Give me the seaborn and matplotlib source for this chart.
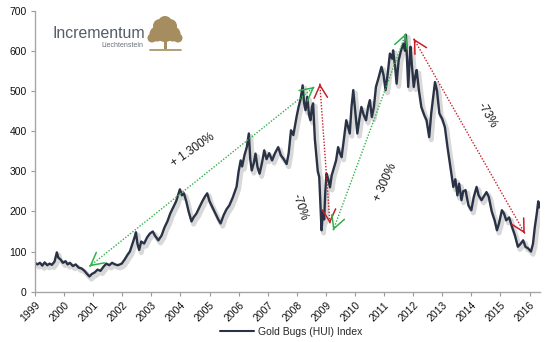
import matplotlib
matplotlib.use("Agg")
import matplotlib.pyplot as plt
import matplotlib.patheffects as pe
from matplotlib.patches import Circle, Rectangle
import pandas as pd
import seaborn as sns

# Gold Bugs (HUI) index, decimal year vs. index level
years = [
    1999.00, 1999.08, 1999.17, 1999.25, 1999.33, 1999.42, 1999.50, 1999.58, 1999.67, 1999.75,
    1999.80, 1999.88, 1999.96, 2000.05, 2000.12, 2000.20, 2000.30, 2000.40, 2000.50, 2000.60,
    2000.70, 2000.78, 2000.87, 2000.95, 2001.05, 2001.15, 2001.25, 2001.35, 2001.45, 2001.55,
    2001.65, 2001.75, 2001.85, 2001.98, 2002.08, 2002.18, 2002.26, 2002.35, 2002.42, 2002.47,
    2002.52, 2002.58, 2002.65, 2002.75, 2002.85, 2002.95, 2003.05, 2003.12, 2003.24, 2003.35,
    2003.45, 2003.55, 2003.65, 2003.75, 2003.85, 2003.98, 2004.05, 2004.12, 2004.20, 2004.28,
    2004.38, 2004.45, 2004.55, 2004.65, 2004.75, 2004.85, 2004.92, 2005.00, 2005.10, 2005.20,
    2005.30, 2005.38, 2005.48, 2005.58, 2005.68, 2005.80, 2005.93, 2006.00, 2006.07, 2006.12,
    2006.20, 2006.28, 2006.35, 2006.40, 2006.45, 2006.52, 2006.58, 2006.65, 2006.72, 2006.80,
    2006.88, 2006.96, 2007.05, 2007.15, 2007.25, 2007.36, 2007.45, 2007.55, 2007.65, 2007.72,
    2007.80, 2007.88, 2007.99, 2008.06, 2008.13, 2008.20, 2008.25, 2008.30, 2008.36, 2008.42,
    2008.47, 2008.52, 2008.56, 2008.62, 2008.67, 2008.72, 2008.77, 2008.81, 2008.85, 2008.90,
    2008.94, 2008.98, 2009.02, 2009.08, 2009.14, 2009.20, 2009.28, 2009.35, 2009.42, 2009.48,
    2009.54, 2009.62, 2009.70, 2009.76, 2009.82, 2009.88, 2009.94, 2010.02, 2010.08, 2010.15,
    2010.22, 2010.30, 2010.38, 2010.45, 2010.51, 2010.58, 2010.65, 2010.72, 2010.80, 2010.91,
    2010.98, 2011.05, 2011.12, 2011.20, 2011.28, 2011.31, 2011.38, 2011.43, 2011.50, 2011.58,
    2011.66, 2011.72, 2011.75, 2011.80, 2011.83, 2011.88, 2011.91, 2011.96, 2012.02, 2012.08,
    2012.12, 2012.20, 2012.28, 2012.38, 2012.46, 2012.55, 2012.62, 2012.68, 2012.75, 2012.82,
    2012.90, 2013.00, 2013.09, 2013.18, 2013.28, 2013.38, 2013.45, 2013.52, 2013.58, 2013.66,
    2013.72, 2013.80, 2013.90, 2014.00, 2014.08, 2014.18, 2014.25, 2014.35, 2014.45, 2014.52,
    2014.60, 2014.70, 2014.80, 2014.88, 2014.95, 2015.05, 2015.12, 2015.20, 2015.30, 2015.40,
    2015.50, 2015.60, 2015.70, 2015.78, 2015.86, 2015.95, 2016.05, 2016.12, 2016.18, 2016.25,
    2016.30, 2016.33, 2016.35,
]
hui = [
    72, 68, 72, 65, 73, 66, 70, 67, 75, 98,
    85, 80, 72, 76, 68, 72, 64, 68, 60, 58,
    52, 45, 38, 44, 48, 55, 52, 62, 70, 66,
    72, 68, 66, 70, 80, 92, 100, 120, 135, 148,
    120, 104, 125, 120, 135, 145, 150, 140, 128, 140,
    160, 175, 195, 210, 225, 255, 240, 245, 225, 200,
    175, 185, 195, 210, 225, 238, 245, 225, 210, 195,
    180, 170, 190, 205, 215, 235, 262, 300, 327, 312,
    340, 360, 394, 330, 302, 320, 344, 310, 294, 320,
    352, 330, 345, 327, 345, 360, 340, 330, 318, 345,
    402, 390, 435, 460, 480, 514, 470, 452, 485, 440,
    427, 460, 469, 380, 340, 300, 286, 220, 153, 200,
    180, 250, 294, 280, 260, 290, 310, 327, 360, 345,
    335, 380, 427, 410, 394, 460, 502, 440, 394, 430,
    460, 440, 427, 460, 477, 435, 460, 510, 530, 560,
    540, 502, 540, 593, 580, 601, 560, 518, 576, 600,
    618, 600, 640, 560, 510, 580, 610, 560, 510, 540,
    552, 500, 460, 440, 427, 385, 444, 480, 522, 500,
    444, 430, 410, 360, 311, 261, 280, 240, 269, 228,
    250, 253, 215, 203, 235, 261, 240, 228, 240, 248,
    236, 200, 178, 153, 170, 203, 195, 178, 185, 161,
    140, 112, 120, 128, 112, 108, 100, 120, 160, 195,
    225, 210, 220,
]
series_name = "Gold Bugs (HUI) Index"

year_ticks = list(range(1999, 2017))
value_ticks = [0, 100, 200, 300, 400, 500, 600, 700]

# Percentage moves: (label, start year, start value, end year, end value, colour)
moves = [
    ("+ 1.300%", 2000.87, 63, 2008.60, 510, "#2fb24c"),
    ("-70%", 2008.79, 518, 2009.14, 170, "#c8202a"),
    ("+ 300%", 2009.25, 153, 2011.75, 643, "#2fb24c"),
    ("-73%", 2012.02, 630, 2015.84, 145, "#c8202a"),
]
# Label placement: (x, y, rotation)
move_labels = [
    (2004.44, 352, 35),
    (2008.10, 211, -72),
    (2011.03, 273, 66),
    (2014.54, 440, -60),
]

df = pd.DataFrame({"year": years, "value": hui})

sns.set_theme(style="white")
plt.rcParams["font.family"] = ["Liberation Sans", "DejaVu Sans"]

fig = plt.figure(figsize=(5.49, 3.42), dpi=100)
ax = fig.add_axes([0.0638, 0.147, 0.9198, 0.822])

line_color = "#2a3346"
sns.lineplot(data=df, x="year", y="value", ax=ax, color=line_color, linewidth=1.7,
             label=series_name, legend=False)
ax.lines[0].set_path_effects([
    pe.SimpleLineShadow(offset=(1.5, -2.0), shadow_color="#808080", alpha=0.3, linewidth=3.5),
    pe.Normal(),
])

# Dotted double-headed arrows with open heads
for (label, x0, y0, x1, y1, col), (tx, ty, rot) in zip(moves, move_labels):
    ax.plot([x0, x1], [y0, y1], linestyle=(0, (1, 1.2)), color=col, linewidth=1.0)
    for (ax_, ay_), (bx, by) in (((x0, y0), (x1, y1)), ((x1, y1), (x0, y0))):
        fx = ax_ + (bx - ax_) * 0.005
        fy = ay_ + (by - ay_) * 0.005
        ax.annotate("", xy=(ax_, ay_), xytext=(fx, fy),
                    arrowprops=dict(arrowstyle="->,head_length=0.75,head_width=0.4",
                                    color=col, lw=1.1, shrinkA=0, shrinkB=0))
    ax.text(tx, ty, label, rotation=rot, rotation_mode="anchor", ha="center", va="center",
            fontsize=8.5, color="#1a1a1a")

ax.set_xlim(1999, 2016.36)
ax.set_ylim(0, 700)
ax.set_xticks(year_ticks)
ax.set_xticklabels([str(y) for y in year_ticks], rotation=45, ha="right",
                   rotation_mode="anchor", fontsize=7.5, color="#111111")
ax.set_yticks(value_ticks)
ax.set_yticklabels([str(v) for v in value_ticks], fontsize=7.5, color="#111111")
ax.set_xlabel("")
ax.set_ylabel("")
ax.tick_params(axis="both", which="both", direction="out", length=3, width=0.8,
               color="#9a9a9a", pad=3, left=True, bottom=True)
for side in ("top", "right"):
    ax.spines[side].set_visible(False)
for side in ("left", "bottom"):
    ax.spines[side].set_color("#a6a6a6")
    ax.spines[side].set_linewidth(1.0)

fig.legend(handles=[ax.lines[0]], labels=[series_name], loc="center",
           bbox_to_anchor=(0.53, 0.029), frameon=False, fontsize=7.5,
           handlelength=3.3, handletextpad=0.3)
leg_line = fig.legends[0].get_lines()[0]
leg_line.set_path_effects([pe.Normal()])
leg_line.set_linewidth(1.5)

# Brand mark in the upper left
fig.text(0.096, 0.889, "Incrementum", fontsize=11.4, color="#545c69")
fig.text(0.262, 0.862, "Liechtenstein", fontsize=5, color="#6a707a", ha="right")
logo = fig.add_axes([0, 0, 1, 1], facecolor="none")
logo.set_xlim(0, 549)
logo.set_ylim(342, 0)
logo.axis("off")
gold = "#a68d60"
for cx, cy, r in [(165, 32, 10), (157, 34, 7.5), (173, 34, 7.5), (160, 26, 7), (170, 26, 7),
                  (165, 23, 7), (152, 38, 4.5), (178, 38, 4.5)]:
    logo.add_patch(Circle((cx, cy), r, color=gold, lw=0))
logo.add_patch(Rectangle((163.5, 38), 3, 11, color=gold, lw=0))
logo.plot([150, 181], [49.5, 49.5], color=gold, lw=1.2)

fig.savefig("out.png", dpi=100)
